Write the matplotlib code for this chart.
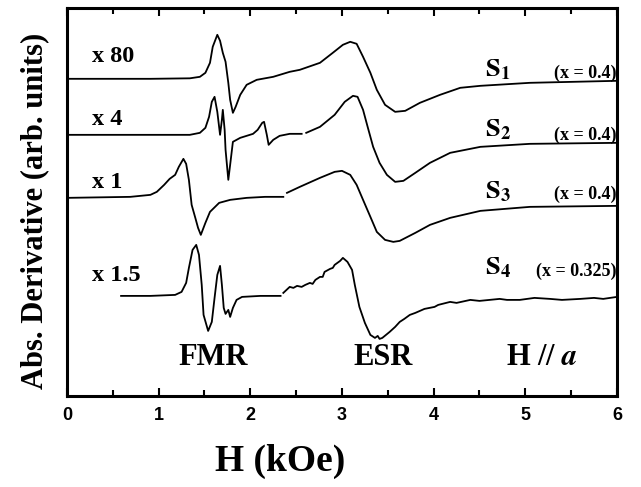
import numpy as np
import matplotlib
matplotlib.use("Agg")
import matplotlib.pyplot as plt
from matplotlib.ticker import MultipleLocator

plt.rcParams['mathtext.fontset'] = 'stix'

# field H (kOe) and derivative signal (arb. units, relative to each baseline)
# each spectrum is recorded in two sweeps (FMR part / ESR part)
s1_h = [0.00, 0.91, 1.34, 1.45, 1.51, 1.56, 1.59, 1.64, 1.67, 1.70, 1.73, 1.76, 1.78, 1.81,
        1.84, 1.89, 1.96, 2.07, 2.25, 2.43, 2.54, 2.76, 2.90, 3.01, 3.09, 3.16, 3.23, 3.31,
        3.38, 3.47, 3.58, 3.69, 3.85, 4.07, 4.29, 4.51, 5.05, 6.00]
s1_v = [0, 0, 0.5, 2, 6, 16, 32, 44, 38, 26, 17, -4, -21, -34,
        -28, -16, -6, -1, 2, 7, 9, 16, 26, 34, 37, 35, 22, 6,
        -11, -26, -33, -32, -24, -16, -9, -7, -4, -2]

s2a_h = [0.00, 1.34, 1.45, 1.51, 1.55, 1.58, 1.61, 1.64, 1.67, 1.69, 1.70, 1.72, 1.73, 1.76,
         1.78, 1.81, 1.89, 2.03, 2.08, 2.13, 2.15, 2.18, 2.20, 2.25, 2.32, 2.43, 2.56]
s2a_v = [0, 0, 2, 7, 18, 33, 38, 23, 0, 15, 25, 5, -15, -45,
         -30, -7, -3, 1, 5, 12, 13, 0, -10, -5, -1, 1, 1]
s2b_h = [2.61, 2.76, 2.92, 3.03, 3.12, 3.17, 3.23, 3.28, 3.34, 3.41, 3.49, 3.58, 3.67, 3.80,
         3.96, 4.18, 4.51, 5.05, 6.00]
s2b_v = [2, 8, 20, 33, 39, 38, 25, 8, -12, -28, -40, -47, -46, -38,
         -28, -18, -12, -9, -8]

s3a_h = [0.00, 0.69, 0.91, 0.98, 1.06, 1.12, 1.18, 1.22, 1.27, 1.30, 1.33, 1.36, 1.40, 1.43,
         1.46, 1.51, 1.56, 1.66, 1.78, 1.96, 2.16, 2.36]
s3a_v = [0, 1, 3, 6, 13, 19, 23, 31, 39, 34, 18, -7, -20, -30,
         -37, -25, -14, -5, -2, 0, 1, 1]
s3b_h = [2.40, 2.54, 2.76, 2.92, 3.00, 3.09, 3.16, 3.23, 3.31, 3.38, 3.47, 3.56, 3.63, 3.80,
         3.96, 4.18, 4.51, 5.05, 6.00]
s3b_v = [5, 11, 20, 26, 27, 23, 13, -2, -19, -34, -42, -44, -43, -35,
         -27, -20, -13, -9, -8]

s4a_h = [0.59, 0.91, 1.18, 1.25, 1.30, 1.33, 1.37, 1.41, 1.44, 1.47, 1.49, 1.54, 1.58, 1.61,
         1.64, 1.67, 1.69, 1.71, 1.73, 1.76, 1.78, 1.81, 1.85, 1.91, 2.11, 2.33]
s4a_v = [0, 0, 1, 4, 13, 28, 46, 51, 41, 11, -19, -35, -26, -2,
         21, 30, 11, -12, -18, -14, -21, -12, -4, -1, 0, 0]
s4b_h = [2.36, 2.43, 2.47, 2.51, 2.56, 2.60, 2.65, 2.68, 2.71, 2.76, 2.79, 2.81, 2.87, 2.90,
         2.92, 2.98, 3.01, 3.06, 3.11, 3.14, 3.19, 3.25, 3.31, 3.36, 3.39, 3.41, 3.44, 3.52,
         3.58, 3.63, 3.68, 3.74, 3.80, 3.85, 3.90, 4.01, 4.05, 4.18, 4.25, 4.40, 4.50, 4.72,
         4.80, 4.94, 5.10, 5.27, 5.40, 5.60, 5.75, 5.85, 6.00]
s4b_v = [3, 9, 8, 10, 9, 11, 13, 12, 16, 19, 19, 24, 27, 28,
         31, 35, 38, 34, 26, 11, -11, -27, -39, -42, -40, -43, -42, -36,
         -31, -26, -23, -19, -17, -15, -13, -11, -9, -6, -7, -4, -5, -3,
         -4, -4, -2, -3, -4, -3, -2, -3, -1]

offsets = [317, 261, 198, 100]
factors = ['x 80', 'x 4', 'x 1', 'x 1.5']
samples = ['1', '2', '3', '4']
compositions = ['(x = 0.4)', '(x = 0.4)', '(x = 0.4)', '(x = 0.325)']

fig = plt.figure(figsize=(6.41, 4.87), dpi=100)
ax = fig.add_axes([0.1045, 0.187, 0.858, 0.797])

serif = 'Liberation Serif'
lw = 1.3
ax.plot(s1_h, np.array(s1_v) + offsets[0], 'k-', lw=lw)
ax.plot(s2a_h, np.array(s2a_v) + offsets[1], 'k-', lw=lw)
ax.plot(s2b_h, np.array(s2b_v) + offsets[1], 'k-', lw=lw)
ax.plot(s3a_h, np.array(s3a_v) + offsets[2], 'k-', lw=lw)
ax.plot(s3b_h, np.array(s3b_v) + offsets[2], 'k-', lw=lw)
ax.plot(s4a_h, np.array(s4a_v) + offsets[3], 'k-', lw=lw)
ax.plot(s4b_h, np.array(s4b_v) + offsets[3], 'k-', lw=lw)

# gain factors on the left
fac_y = [339, 276, 213, 120]
for f, y in zip(factors, fac_y):
    ax.text(0.27, y, f, ha='left', va='center', fontsize=17.5,
            family=serif, weight='bold')

# sample names and compositions on the right
lab_y = [326, 266, 204, 128]
comp_y = [322, 260, 202, 125]
for s, y in zip(samples, lab_y):
    ax.text(4.56, y, r'$\mathbf{S}_\mathbf{%s}$' % s, ha='left', va='center',
            fontsize=19)
for c, y in zip(compositions, comp_y):
    ax.text(5.99, y, c, ha='right', va='center', fontsize=13,
            family=serif, weight='bold')

ax.text(1.59, 38, 'FMR', ha='center', va='center', fontsize=22,
        family=serif, weight='bold')
ax.text(3.45, 38, 'ESR', ha='center', va='center', fontsize=22,
        family=serif, weight='bold')
ax.text(5.18, 38, r'H // $\boldsymbol{a}$', ha='center', va='center', fontsize=22,
        family=serif, weight='bold')

ax.set_xlim(0, 6)
ax.set_ylim(0, 388)
ax.set_yticks([])
ax.xaxis.set_major_locator(MultipleLocator(1))
ax.xaxis.set_minor_locator(MultipleLocator(0.5))
ax.tick_params(axis='x', which='both', direction='in', top=True, width=1.5)
ax.tick_params(axis='x', which='major', length=6, pad=8)
ax.tick_params(axis='x', which='minor', length=4)
for lab in ax.get_xticklabels():
    lab.set_family('Liberation Sans')
    lab.set_weight('bold')
    lab.set_fontsize(13)
for sp in ax.spines.values():
    sp.set_linewidth(2.2)

ax.set_xlabel('H (kOe)', fontsize=27, family=serif, weight='bold')
ax.xaxis.set_label_coords(0.387, -0.17)
ax.xaxis.label.set_va('center')
ax.set_ylabel('Abs. Derivative (arb. units)', fontsize=22, family=serif, weight='bold')
ax.yaxis.set_label_coords(-0.058, 0.477)
ax.yaxis.label.set_va('center')

fig.savefig('out.png', dpi=100)
